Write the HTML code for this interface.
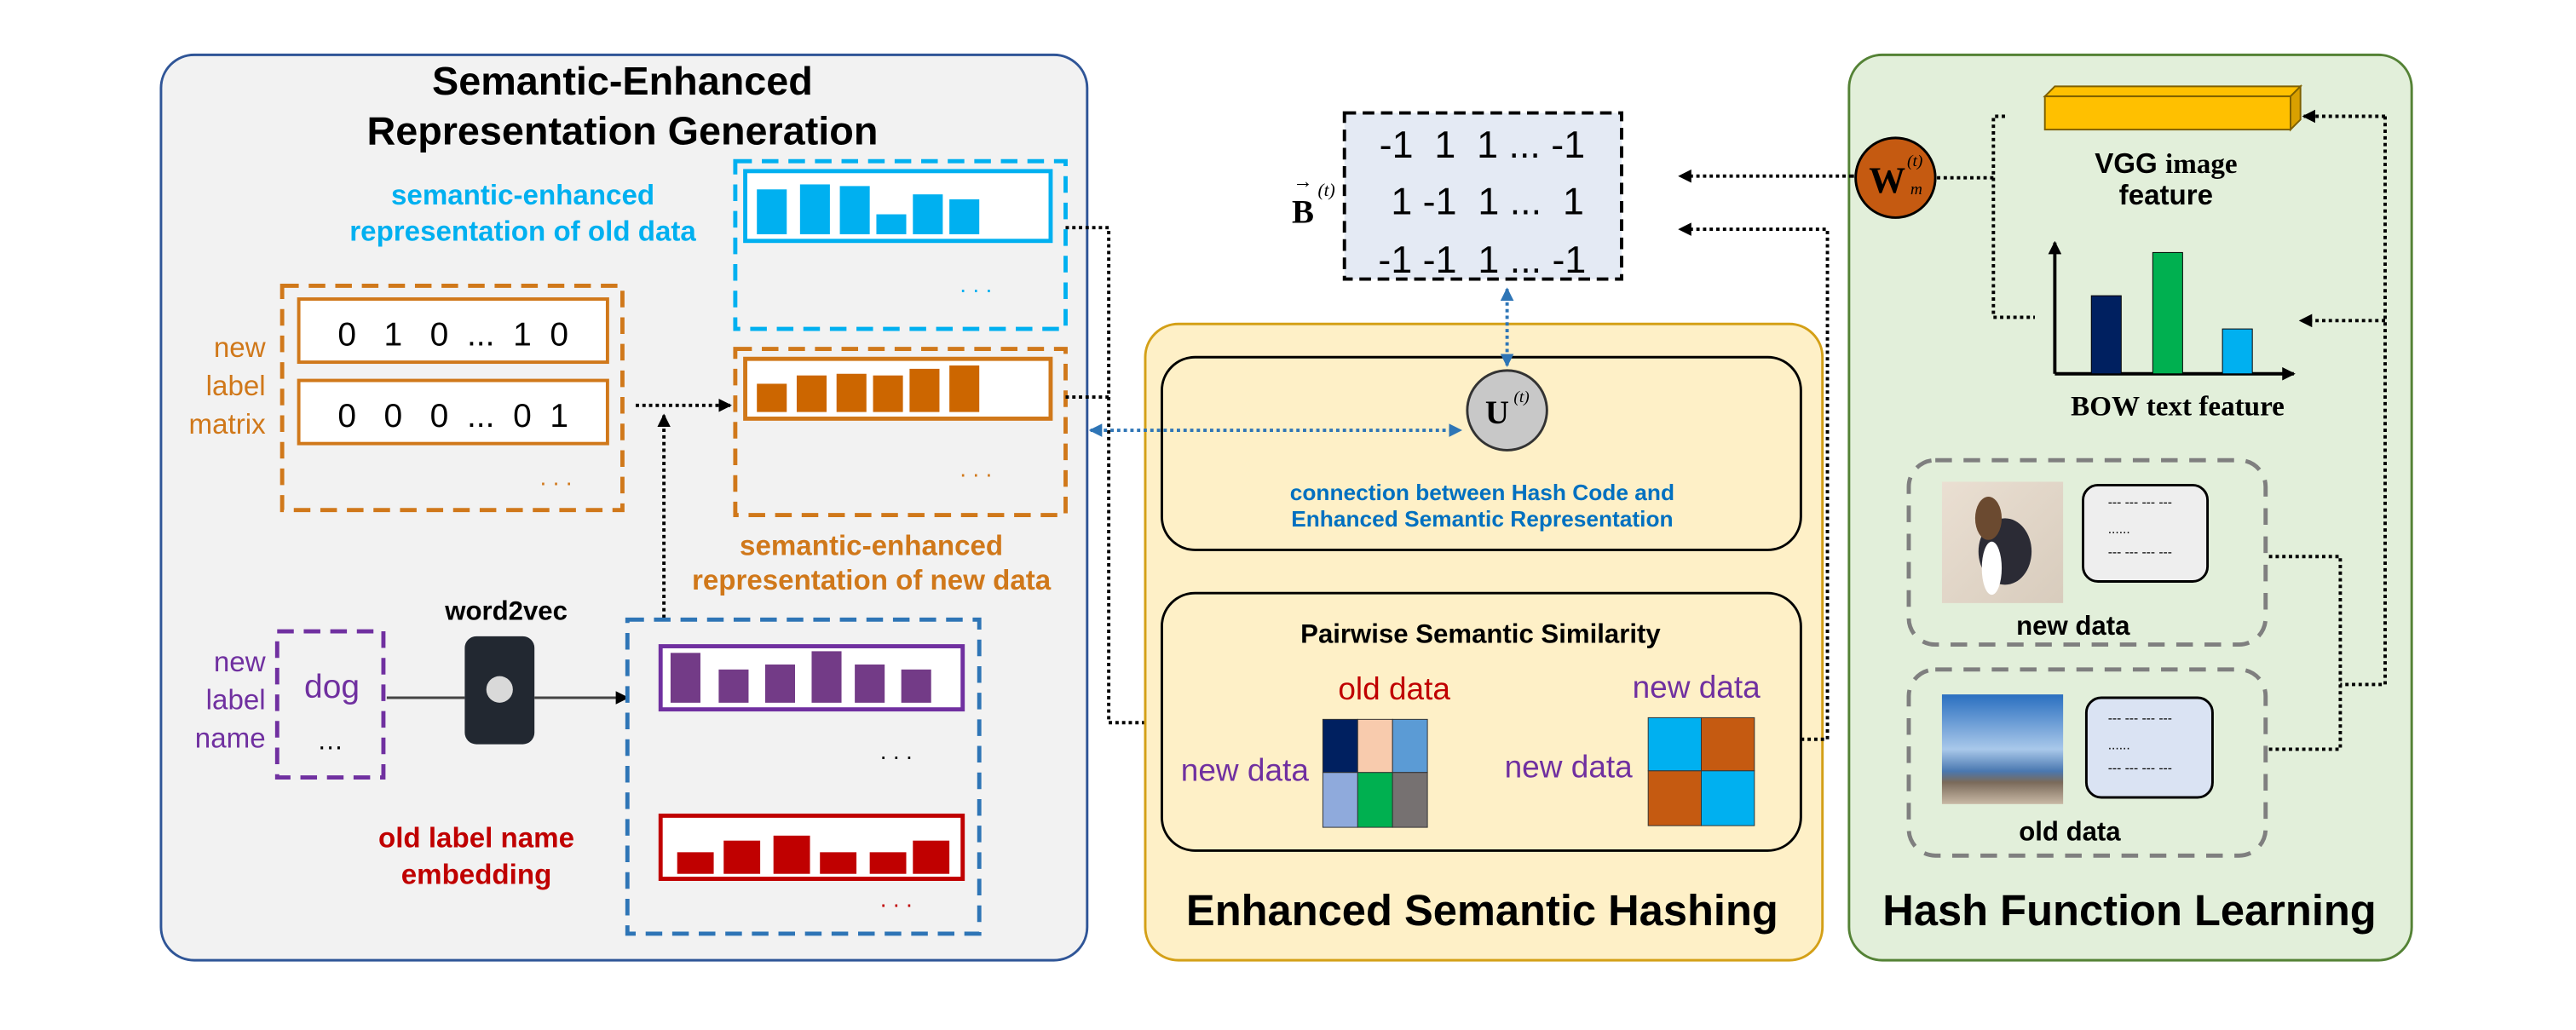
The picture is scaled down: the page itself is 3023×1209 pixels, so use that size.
<!DOCTYPE html>
<html><head><meta charset="utf-8"><style>
html,body{margin:0;padding:0;background:#fff;}
svg{display:block;}
text{font-family:"Liberation Sans",sans-serif;white-space:pre;}
.b{font-weight:bold;}
</style></head><body>
<svg width="3023" height="1209" viewBox="0 0 1552 620" preserveAspectRatio="none" xmlns="http://www.w3.org/2000/svg">
<defs>
<marker id="ak" markerWidth="8" markerHeight="8" refX="7" refY="4" orient="auto" markerUnits="userSpaceOnUse"><path d="M0,0L8,4L0,8z" fill="#000"/></marker>
<marker id="ab" markerWidth="8" markerHeight="8" refX="7" refY="4" orient="auto" markerUnits="userSpaceOnUse"><path d="M0,0L8,4L0,8z" fill="#2e75b6"/></marker>
<marker id="abs" markerWidth="8" markerHeight="8" refX="1" refY="4" orient="auto" markerUnits="userSpaceOnUse"><path d="M8,0L0,4L8,8z" fill="#2e75b6"/></marker>
<linearGradient id="sky" x1="0" y1="0" x2="0" y2="1"><stop offset="0" stop-color="#2a6fc0"/><stop offset="0.5" stop-color="#a9c8ea"/><stop offset="0.7" stop-color="#4a78b0"/><stop offset="0.8" stop-color="#7a6a5a"/><stop offset="1" stop-color="#c8b8a5"/></linearGradient>
<linearGradient id="floor" x1="0" y1="0" x2="1" y2="1"><stop offset="0" stop-color="#eadfd2"/><stop offset="1" stop-color="#d8ccbd"/></linearGradient>
</defs>

<!-- Left panel -->
<rect x="97" y="33" width="558" height="545" rx="20" fill="#f2f2f2" stroke="#2f5597" stroke-width="1.5"/>
<text x="375" y="57" font-size="24" class="b" text-anchor="middle">Semantic-Enhanced</text>
<text x="375" y="87" font-size="24" class="b" text-anchor="middle">Representation Generation</text>
<text x="315" y="123" font-size="17" class="b" fill="#00b0f0" text-anchor="middle">semantic-enhanced</text>
<text x="315" y="145" font-size="17" class="b" fill="#00b0f0" text-anchor="middle">representation of old data</text>

<rect x="443" y="97" width="199" height="101" fill="none" stroke="#00b0f0" stroke-width="2.5" stroke-dasharray="10,6"/>
<rect x="449" y="103" width="184" height="42" fill="#fff" stroke="#00b0f0" stroke-width="2.5"/>
<g fill="#00b0f0"><rect x="456" y="114" width="18" height="27"/><rect x="482" y="111" width="18" height="30"/><rect x="506" y="112" width="18" height="29"/><rect x="528" y="129" width="18" height="12"/><rect x="550" y="117" width="18" height="24"/><rect x="572" y="120" width="18" height="21"/></g>
<text x="588" y="176" font-size="14" fill="#00b0f0" text-anchor="middle">. . .</text>

<text x="160" y="215" font-size="17" text-anchor="end" fill="#d0781a">new</text>
<text x="160" y="238" font-size="17" text-anchor="end" fill="#d0781a">label</text>
<text x="160" y="261" font-size="17" text-anchor="end" fill="#d0781a">matrix</text>
<rect x="170" y="172" width="205" height="135" fill="none" stroke="#d0781a" stroke-width="2.5" stroke-dasharray="10,6"/>
<rect x="180" y="180" width="186" height="38" fill="#fff" stroke="#d0781a" stroke-width="2"/>
<rect x="180" y="229" width="186" height="38" fill="#fff" stroke="#d0781a" stroke-width="2"/>
<text x="273" y="208" font-size="20" text-anchor="middle">0   1   0  ...  1  0</text>
<text x="273" y="257" font-size="20" text-anchor="middle">0   0   0  ...  0  1</text>
<text x="335" y="292" font-size="14" fill="#d0781a" text-anchor="middle">. . .</text>

<rect x="443" y="210" width="199" height="100" fill="none" stroke="#d0781a" stroke-width="2.5" stroke-dasharray="10,6"/>
<rect x="449" y="216" width="184" height="36" fill="#fff" stroke="#d0781a" stroke-width="2.5"/>
<g fill="#cc6600"><rect x="456" y="231" width="18" height="17"/><rect x="480" y="226" width="18" height="22"/><rect x="504" y="225" width="18" height="23"/><rect x="526" y="226" width="18" height="22"/><rect x="548" y="222" width="18" height="26"/><rect x="572" y="220" width="18" height="28"/></g>
<text x="588" y="287" font-size="14" fill="#d0781a" text-anchor="middle">. . .</text>
<text x="525" y="334" font-size="17" class="b" fill="#d0781a" text-anchor="middle">semantic-enhanced</text>
<text x="525" y="355" font-size="17" class="b" fill="#d0781a" text-anchor="middle">representation of new data</text>

<line x1="383" y1="244" x2="440" y2="244" stroke="#000" stroke-width="2" stroke-dasharray="2,2" marker-end="url(#ak)"/>
<line x1="400" y1="372" x2="400" y2="250" stroke="#000" stroke-width="2" stroke-dasharray="2,2" marker-end="url(#ak)"/>

<text x="305" y="373" font-size="16" class="b" text-anchor="middle">word2vec</text>
<rect x="280" y="383" width="42" height="65" rx="7" fill="#222831"/>
<circle cx="301" cy="415" r="8" fill="#d9d9d9"/>
<line x1="233" y1="420" x2="280" y2="420" stroke="#444" stroke-width="1.5"/>
<line x1="322" y1="420" x2="378" y2="420" stroke="#444" stroke-width="1.5" marker-end="url(#ak)"/>

<text x="160" y="404" font-size="17" fill="#7030a0" text-anchor="end">new</text>
<text x="160" y="427" font-size="17" fill="#7030a0" text-anchor="end">label</text>
<text x="160" y="450" font-size="17" fill="#7030a0" text-anchor="end">name</text>
<rect x="167" y="380" width="64" height="88" fill="none" stroke="#7030a0" stroke-width="2.5" stroke-dasharray="10,6"/>
<text x="200" y="420" font-size="20" fill="#7030a0" text-anchor="middle">dog</text>
<text x="199" y="451" font-size="16" text-anchor="middle">…</text>

<rect x="378" y="373" width="212" height="189" fill="none" stroke="#2e75b6" stroke-width="2.5" stroke-dasharray="10,6"/>
<rect x="398" y="389" width="182" height="38" fill="#fff" stroke="#7030a0" stroke-width="2.5"/>
<g fill="#733b87"><rect x="404" y="393" width="18" height="30"/><rect x="433" y="403" width="18" height="20"/><rect x="461" y="400" width="18" height="23"/><rect x="489" y="392" width="18" height="31"/><rect x="515" y="400" width="18" height="23"/><rect x="543" y="403" width="18" height="20"/></g>
<text x="540" y="457" font-size="14" text-anchor="middle">. . .</text>
<rect x="398" y="491" width="182" height="38" fill="#fff" stroke="#c00000" stroke-width="2.5"/>
<g fill="#c00000"><rect x="408" y="513" width="22" height="13"/><rect x="436" y="506" width="22" height="20"/><rect x="466" y="503" width="22" height="23"/><rect x="494" y="513" width="22" height="13"/><rect x="524" y="513" width="22" height="13"/><rect x="550" y="506" width="22" height="20"/></g>
<text x="540" y="546" font-size="14" fill="#c00000" text-anchor="middle">. . .</text>
<text x="287" y="510" font-size="17" class="b" fill="#c00000" text-anchor="middle">old label name</text>
<text x="287" y="532" font-size="17" class="b" fill="#c00000" text-anchor="middle">embedding</text>

<polyline points="642,137 668,137 668,435 697,435" fill="none" stroke="#000" stroke-width="2" stroke-dasharray="2,2" marker-end="url(#ak)"/>
<polyline points="642,239 668,239" fill="none" stroke="#000" stroke-width="2" stroke-dasharray="2,2"/>

<!-- B matrix -->
<rect x="810" y="68" width="167" height="100" fill="#e4eaf4" stroke="#000" stroke-width="2" stroke-dasharray="7,4"/>
<text x="893" y="95" font-size="23" text-anchor="middle">-1  1  1 ... -1</text>
<text x="893" y="129" font-size="23" text-anchor="middle"> 1 -1  1 ...  1</text>
<text x="893" y="164" font-size="23" text-anchor="middle">-1 -1  1 ... -1</text>
<text x="785" y="134" font-size="20" class="b" text-anchor="middle" style="font-family:'Liberation Serif',serif">B</text>
<text x="785" y="113" font-size="12" text-anchor="middle">→</text>
<text x="794" y="118" font-size="11" font-style="italic" style="font-family:'Liberation Serif',serif">(t)</text>

<!-- Yellow panel -->
<rect x="690" y="195" width="408" height="383" rx="20" fill="#fef0c7" stroke="#d4a017" stroke-width="1.5"/>
<rect x="700" y="215" width="385" height="116" rx="20" fill="none" stroke="#000" stroke-width="1.5"/>
<rect x="700" y="357" width="385" height="155" rx="20" fill="none" stroke="#000" stroke-width="1.5"/>
<circle cx="908" cy="247" r="24" fill="#c8c8c8" stroke="#333" stroke-width="1.5"/>
<text x="902" y="255" font-size="20" class="b" text-anchor="middle" style="font-family:'Liberation Serif',serif">U</text>
<text x="912" y="242" font-size="10" font-style="italic" style="font-family:'Liberation Serif',serif">(t)</text>
<line x1="908" y1="174" x2="908" y2="220" stroke="#2e75b6" stroke-width="2" stroke-dasharray="2,2" marker-start="url(#abs)" marker-end="url(#ab)"/>
<line x1="657" y1="259" x2="880" y2="259" stroke="#2e75b6" stroke-width="2" stroke-dasharray="2,2" marker-start="url(#abs)" marker-end="url(#ab)"/>
<text x="893" y="301" font-size="13.5" class="b" fill="#0070c0" text-anchor="middle">connection between Hash Code and</text>
<text x="893" y="317" font-size="13.5" class="b" fill="#0070c0" text-anchor="middle">Enhanced Semantic Representation</text>
<text x="892" y="387" font-size="16" class="b" text-anchor="middle">Pairwise Semantic Similarity</text>
<text x="840" y="421" font-size="19" fill="#c00000" text-anchor="middle">old data</text>
<text x="750" y="470" font-size="19" fill="#7030a0" text-anchor="middle">new data</text>
<g stroke="#333" stroke-width="0.5">
<rect x="797" y="433" width="21" height="32" fill="#002060"/><rect x="818" y="433" width="21" height="32" fill="#f8cbad"/><rect x="839" y="433" width="21" height="32" fill="#5b9bd5"/>
<rect x="797" y="465" width="21" height="33" fill="#8faadc"/><rect x="818" y="465" width="21" height="33" fill="#00b050"/><rect x="839" y="465" width="21" height="33" fill="#767171"/>
<rect x="993" y="432" width="32" height="32" fill="#00b0f0"/><rect x="1025" y="432" width="32" height="32" fill="#c55a11"/>
<rect x="993" y="464" width="32" height="33" fill="#c55a11"/><rect x="1025" y="464" width="32" height="33" fill="#00b0f0"/>
</g>
<text x="1022" y="420" font-size="19" fill="#7030a0" text-anchor="middle">new data</text>
<text x="945" y="468" font-size="19" fill="#7030a0" text-anchor="middle">new data</text>
<text x="893" y="557" font-size="26" class="b" text-anchor="middle">Enhanced Semantic Hashing</text>
<polyline points="1085,445 1101,445 1101,138 1012,138" fill="none" stroke="#000" stroke-width="2" stroke-dasharray="2,2" marker-end="url(#ak)"/>
<line x1="1116" y1="106" x2="1012" y2="106" stroke="#000" stroke-width="2" stroke-dasharray="2,2" marker-end="url(#ak)"/>

<!-- Green panel -->
<rect x="1114" y="33" width="339" height="545" rx="20" fill="#e2efda" stroke="#548235" stroke-width="1.5"/>
<line x1="1114" y1="106" x2="1117" y2="106" stroke="#000" stroke-width="2"/>
<circle cx="1142" cy="107" r="24" fill="#c55a11" stroke="#000" stroke-width="1.5"/>
<text x="1137" y="116" font-size="22" class="b" text-anchor="middle" style="font-family:'Liberation Serif',serif">W</text>
<text x="1149" y="100" font-size="10" font-style="italic" style="font-family:'Liberation Serif',serif">(t)</text>
<text x="1151" y="117" font-size="10" font-style="italic" style="font-family:'Liberation Serif',serif">m</text>
<polyline points="1167,107 1201,107 1201,70 1210,70" fill="none" stroke="#000" stroke-width="2" stroke-dasharray="2,2"/>
<polyline points="1201,107 1201,191 1226,191" fill="none" stroke="#000" stroke-width="2" stroke-dasharray="2,2"/>
<polygon points="1232,58 1380,58 1386,52 1238,52" fill="#ffc000" stroke="#7f6000" stroke-width="1"/>
<rect x="1232" y="58" width="148" height="20" fill="#ffc000" stroke="#7f6000" stroke-width="1"/>
<polygon points="1380,58 1386,52 1386,72 1380,78" fill="#d9a000" stroke="#7f6000" stroke-width="1"/>
<text x="1305" y="104" font-size="17" class="b" text-anchor="middle">VGG <tspan style="font-family:'Liberation Serif',serif">image</tspan></text>
<text x="1305" y="123" font-size="17" class="b" text-anchor="middle">feature</text>
<line x1="1238" y1="225" x2="1238" y2="146" stroke="#000" stroke-width="2" marker-end="url(#ak)"/>
<line x1="1238" y1="225" x2="1382" y2="225" stroke="#000" stroke-width="2" marker-end="url(#ak)"/>
<rect x="1260" y="178" width="18" height="47" fill="#002060" stroke="#000" stroke-width="0.5"/>
<rect x="1297" y="152" width="18" height="73" fill="#00b050" stroke="#000" stroke-width="0.5"/>
<rect x="1339" y="198" width="18" height="27" fill="#00b0f0" stroke="#000" stroke-width="0.5"/>
<text x="1312" y="250" font-size="17" class="b" text-anchor="middle" style="font-family:'Liberation Serif',serif">BOW text feature</text>
<polyline points="1437,70 1437,412 1410,412" fill="none" stroke="#000" stroke-width="2" stroke-dasharray="2,2"/>
<line x1="1437" y1="70" x2="1388" y2="70" stroke="#000" stroke-width="2" stroke-dasharray="2,2" marker-end="url(#ak)"/>
<line x1="1437" y1="193" x2="1386" y2="193" stroke="#000" stroke-width="2" stroke-dasharray="2,2" marker-end="url(#ak)"/>
<polyline points="1367,335 1410,335 1410,451 1367,451" fill="none" stroke="#000" stroke-width="2" stroke-dasharray="2,2"/>

<rect x="1150" y="277" width="215" height="111" rx="16" fill="none" stroke="#7f7f7f" stroke-width="2.5" stroke-dasharray="10,7"/>
<rect x="1170" y="290" width="73" height="73" fill="url(#floor)"/>
<ellipse cx="1208" cy="332" rx="16" ry="20" fill="#2b2b35"/>
<ellipse cx="1198" cy="312" rx="8" ry="13" fill="#6b4a30"/>
<ellipse cx="1200" cy="342" rx="6" ry="16" fill="#fff"/>
<rect x="1255" y="292" width="75" height="58" rx="9" fill="#eeeeee" stroke="#000" stroke-width="1.5"/>
<text x="1270" y="305" font-size="8">--- --- --- ---</text>
<text x="1270" y="321" font-size="8">......</text>
<text x="1270" y="335" font-size="8">--- --- --- ---</text>
<text x="1249" y="382" font-size="16" class="b" text-anchor="middle">new data</text>

<rect x="1150" y="403" width="215" height="112" rx="16" fill="none" stroke="#7f7f7f" stroke-width="2.5" stroke-dasharray="10,7"/>
<rect x="1170" y="418" width="73" height="66" fill="url(#sky)"/>
<rect x="1257" y="420" width="76" height="60" rx="9" fill="#dae3f3" stroke="#000" stroke-width="1.5"/>
<text x="1270" y="435" font-size="8">--- --- --- ---</text>
<text x="1270" y="451" font-size="8">......</text>
<text x="1270" y="465" font-size="8">--- --- --- ---</text>
<text x="1247" y="506" font-size="16" class="b" text-anchor="middle">old data</text>
<text x="1283" y="557" font-size="26" class="b" text-anchor="middle">Hash Function Learning</text>
</svg>
</body></html>
